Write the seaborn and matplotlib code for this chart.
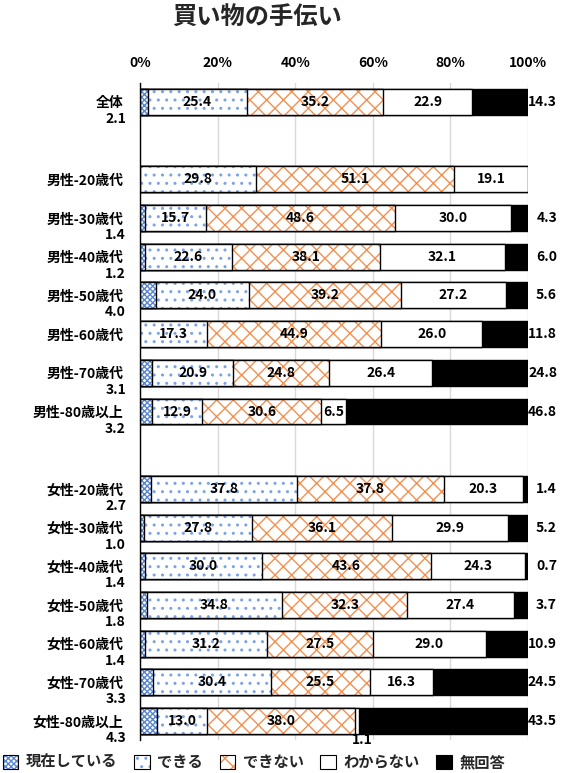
#!/usr/bin/env python3
"""
買い物の手伝い - stacked horizontal bar chart
"""

import numpy as np
import pandas as pd
import matplotlib
matplotlib.use('Agg')
import matplotlib.pyplot as plt
import seaborn as sns
from matplotlib.patches import Patch, Rectangle

# categories (blank strings are spacer rows)
categories = ['全体', ' ',
              '男性-20歳代', '男性-30歳代', '男性-40歳代', '男性-50歳代',
              '男性-60歳代', '男性-70歳代', '男性-80歳以上', '  ',
              '女性-20歳代', '女性-30歳代', '女性-40歳代', '女性-50歳代',
              '女性-60歳代', '女性-70歳代', '女性-80歳以上']

series_names = ['現在している', 'できる', 'できない', 'わからない', '無回答']

genzai = [2.1, 0, 0, 1.4, 1.2, 4.0, 0, 3.1, 3.2, 0, 2.7, 1.0, 1.4, 1.8, 1.4, 3.3, 4.3]
dekiru = [25.4, 0, 29.8, 15.7, 22.6, 24.0, 17.3, 20.9, 12.9, 0, 37.8, 27.8, 30.0, 34.8, 31.2, 30.4, 13.0]
dekinai = [35.2, 0, 51.1, 48.6, 38.1, 39.2, 44.9, 24.8, 30.6, 0, 37.8, 36.1, 43.6, 32.3, 27.5, 25.5, 38.0]
wakaranai = [22.9, 0, 19.1, 30.0, 32.1, 27.2, 26.0, 26.4, 6.5, 0, 20.3, 29.9, 24.3, 27.4, 29.0, 16.3, 1.1]
mukaitou = [14.3, 0, 0, 4.3, 6.0, 5.6, 11.8, 24.8, 46.8, 0, 1.4, 5.2, 0.7, 3.7, 10.9, 24.5, 43.5]

x_ticks = [0, 20, 40, 60, 80, 100]
x_ticklabels = ['0%', '20%', '40%', '60%', '80%', '100%']

# face colour, hatch, hatch colour for each series
styles = [
    ('white', 'xxxxxx', '#5A86D0'),
    ('white', '..', '#7AA3E8'),
    ('white', 'xx', '#F39050'),
    ('white', '', 'black'),
    ('black', '', 'black'),
]

sns.set_theme(style='whitegrid')
plt.rcParams['font.family'] = ['Noto Sans CJK JP', 'DejaVu Sans']
plt.rcParams['hatch.linewidth'] = 1.0
plt.rcParams['axes.unicode_minus'] = False

values = np.array([genzai, dekiru, dekinai, wakaranai, mukaitou])
cum = values.cumsum(axis=0)

fig = plt.figure(figsize=(5.61, 7.73), dpi=100)
ax = fig.add_axes([0.2496, 0.0422, 0.6916, 0.8509])
ax.set_axisbelow(True)

# draw cumulative bars from the longest to the shortest
for k in reversed(range(len(series_names))):
    face, hatch, hc = styles[k]
    df = pd.DataFrame({'cat': categories, 'val': cum[k]})
    n0 = len(ax.patches)
    sns.barplot(data=df, x='val', y='cat', order=categories, orient='h',
                width=0.67, color='white', saturation=1, errorbar=None, ax=ax)
    new = list(ax.patches[n0:])
    for p in new:
        p.set_facecolor(face)
        p.set_hatch(hatch)
        p.set_edgecolor(hc)
        p.set_linewidth(0)
        if p.get_width() > 0:
            ax.add_patch(Rectangle(p.get_xy(), p.get_width(), p.get_height(),
                                   fill=False, edgecolor='black', linewidth=1.0))

# value labels
lab_kw = dict(fontsize=10, fontweight='bold', color='black')
for i, cat in enumerate(categories):
    if cat.strip() == '':
        continue
    for k in (1, 2, 3):
        v = values[k][i]
        if v <= 0:
            continue
        xc = cum[k][i] - v / 2
        if v >= 3:
            ax.text(xc, i, f'{v:.1f}', ha='center', va='center', **lab_kw)
        else:
            ax.annotate(f'{v:.1f}', xy=(xc, i), xytext=(6, -19),
                        textcoords='offset pixels', ha='center', va='center',
                        annotation_clip=False, **lab_kw)
    if genzai[i] > 0:
        ax.annotate(f'{genzai[i]:.1f}', xy=(0, i), xytext=(-14, -17),
                    textcoords='offset pixels', ha='right', va='center',
                    annotation_clip=False, **lab_kw)
    if mukaitou[i] > 0:
        ax.annotate(f'{mukaitou[i]:.1f}', xy=(100, i), xytext=(29, 0),
                    textcoords='offset pixels', ha='right', va='center',
                    annotation_clip=False, **lab_kw)

# axes styling
ax.set_xlim(0, 100)
ax.set_xticks(x_ticks)
ax.set_xticklabels(x_ticklabels, fontsize=10, fontweight='bold')
ax.xaxis.tick_top()
ax.tick_params(axis='x', length=0, pad=9, colors='black')
ax.tick_params(axis='y', length=0, pad=12, colors='black')
for t in ax.get_yticklabels():
    t.set_fontsize(10)
    t.set_fontweight('bold')
ax.set_xlabel('')
ax.set_ylabel('')
ax.grid(axis='y', visible=False)
ax.grid(axis='x', color='#d9d9d9', linewidth=1.0)
for s in ['top', 'right', 'bottom']:
    ax.spines[s].set_visible(False)
ax.spines['left'].set_color('black')
ax.spines['left'].set_linewidth(1.0)

fig.text(257 / 561, 1 - 18 / 773, '買い物の手伝い', ha='center', va='center',
         fontsize=17.5, fontweight='bold')

# legend
handles = []
for face, hatch, hc in styles:
    handles.append((Patch(facecolor=face, hatch=hatch, edgecolor=hc, linewidth=0),
                    Patch(fill=False, edgecolor='black', linewidth=0.8)))
fig.legend(handles, series_names, loc='center left',
           bbox_to_anchor=(0.0, 1 - 762 / 773), ncol=5, frameon=False,
           prop={'size': 11, 'weight': 'bold'}, handlelength=1.0,
           handleheight=1.0, handletextpad=0.5, columnspacing=1.1,
           borderpad=0.2, borderaxespad=0)

plt.savefig('out.png', dpi=100)
